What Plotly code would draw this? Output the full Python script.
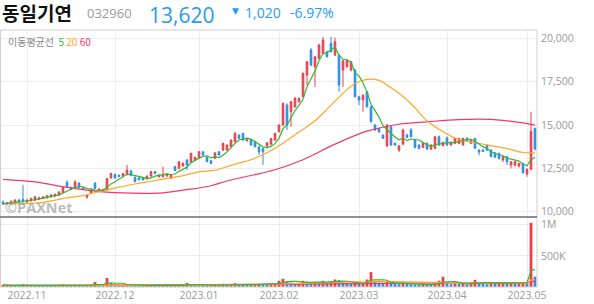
import plotly.graph_objects as go
import pandas as pd

# ---------------- data ----------------
open_ = [10550,10450,10480,10550,10680,10700,10560,10620,10660,10720,10760,10800,10860,10900,10960,
         11100,11700,11400,11350,11650,11350,10850,11100,11650,11250,11250,11250,11950,12150,12100,
         12050,12150,12350,11980,11950,11950,11900,12060,12310,12020,12020,12060,11930,12600,12500,
         12640,12980,12880,12980,13080,13460,13140,12940,13080,13460,13560,13560,13750,14040,14420,
         14520,14100,14140,14040,13750,13650,13790,13900,14140,14615,15000,16157,15770,16060,16350,
         16640,17890,19330,18370,18850,19140,19230,19715,19040,19040,18180,18370,18180,18180,16640,
         16445,16925,16060,15000,14810,14425,13790,14900,13950,13560,13900,14425,14715,14137,13850,
         13715,13950,13620,13660,14330,13810,14240,13850,13950,13950,13850,14240,13950,14235,13560,
         13560,13850,13560,13400,13370,12985,13175,12695,12695,12640,12790,12175,12450,14810]
high = [10650,10550,10650,10700,10720,11550,10750,10820,10900,10860,10900,10950,11020,11060,11200,
        11450,11820,11450,11820,11700,11400,11000,11300,11700,11350,11320,11950,12250,12200,12150,
        12250,12700,12400,12050,12000,12000,12100,12350,12350,12150,12600,12200,12130,12650,12900,
        12850,13050,13400,13180,13500,13500,13200,12980,13420,13500,13980,13880,14160,14600,14480,
        14560,14250,14180,14080,13800,13700,14000,14250,14550,15050,16300,16250,16400,16600,16600,
        18050,18700,19450,18950,19700,20100,19300,20100,20050,19100,18800,18800,18700,18250,16700,
        16780,16950,16100,15050,14850,14450,15050,14950,14000,13850,14800,14500,14830,14200,13900,
        14000,14000,13900,14350,14400,14050,14350,14050,14250,14250,14250,14300,14150,14250,13600,
        13600,13870,13600,13420,13400,13200,13200,12900,12900,12800,12800,12500,15770,14850]
low = [10400,10420,10450,10500,10520,10520,10520,10580,10620,10680,10720,10760,10820,10860,10920,
       11050,11400,11250,11300,11350,11250,10750,11050,11300,11200,11180,11200,11900,11900,12000,
       12000,12100,12050,11700,11800,11820,11870,12020,12180,11980,12000,12030,11900,12350,12450,
       12600,12400,12850,12950,13050,13250,12850,12750,13050,13250,13520,13520,13720,14000,14200,
       14100,14050,13820,13720,13270,12700,13750,13850,14100,14580,14950,14714,14900,16000,16300,
       16600,17311,18400,17200,18800,19100,18900,19200,19000,16925,17200,18300,18100,16600,16157,
       15770,16000,15150,14650,14550,14200,13750,13800,13800,13440,13850,14250,14300,13650,13600,
       13680,13560,13550,13620,13800,13780,13800,13820,13900,13900,13820,14050,13920,13650,13250,
       13450,13500,13150,13100,13000,12850,12700,12500,12600,12550,12200,12020,12400,13550]
close = [10450,10520,10600,10680,10560,10580,10660,10760,10860,10800,10860,10920,10960,10990,11120,
         11400,11450,11300,11720,11400,11280,10950,11250,11350,11300,11280,11900,12200,11950,12050,
         12200,12400,12100,11730,11850,11830,12050,12310,12220,12120,12100,12180,12120,12370,12880,
         12790,12700,13370,13140,13460,13270,12890,12790,13400,13270,13950,13850,14140,14520,14240,
         14140,14200,13850,13750,13460,13460,13980,14220,14520,15000,16250,15000,16350,16560,16540,
         17985,18655,18465,18945,19620,19910,18945,19230,19810,17310,18700,18750,18650,16640,16445,
         16730,16060,15190,14720,14620,14240,15000,13850,13850,13800,14715,14290,14330,13715,13660,
         13950,13620,13850,14330,13850,14000,13850,14000,14235,14235,14235,14100,14100,13660,13440,
         13480,13560,13175,13150,13080,13175,12885,12885,12885,12790,12250,12450,14640,13620]
volume = [35,20,25,22,18,45,20,25,22,30,28,
          25,30,22,28,40,35,25,38,30,20,35,30,
          80,30,25,145,60,40,25,30,45,35,
          30,25,20,22,30,25,20,28,22,20,30,35,25,
          65,40,30,35,30,25,22,35,30,50,
          35,45,60,40,45,30,35,40,50,45,
          40,50,55,100,130,90,70,55,60,100,
          85,70,80,75,100,70,90,120,110,80,
          60,55,70,55,60,120,240,90,70,60,
          80,70,50,45,70,50,45,40,35,40,
          38,35,60,100,165,60,45,55,50,60,
          40,55,115,70,50,45,75,50,60,75,
          55,70,50,65,80,75,1030,165]
volume = [v * 1000 for v in volume]

ma20_pos = [0,8,12,16,20,24,29,33,37,41,45,49,53,58,62,66,70,74,78,82,86,88,91,94,97,100,103,106,110,114,118,122,126,130,133]
ma20_val = [10450,10490,10620,10800,10930,11150,11420,11600,11760,11920,12080,12300,12400,12750,13000,13400,13950,14600,
            15250,16150,17050,17400,17640,17580,17150,16650,16000,15250,14620,14170,13980,13810,13640,13420,13400]
ma60_pos = [0,8,16,20,24,32,40,46,52,56,62,68,75,83,91,99,106,114,122,130,133]
ma60_val = [11870,11720,11400,11270,11160,11070,11090,11270,11500,11770,12090,12420,13000,13900,14650,15050,15190,15320,15330,15130,15000]

month_pos = [6, 28, 49, 69, 89, 111, 131]
month_labels = ['2022.11', '2022.12', '2023.01', '2023.02', '2023.03', '2023.04', '2023.05']
price_ticks = [10000, 12500, 15000, 17500, 20000]
vol_ticks = [500000, 1000000]
vol_tick_labels = ['500K', '1M']

# ---------------- derived ----------------
idx = list(range(len(close)))
s_close = pd.Series(close)
ma5 = s_close.rolling(5, min_periods=1).mean()
s_vol = pd.Series(volume)
vma5 = s_vol.rolling(5, min_periods=1).mean()
vma20 = s_vol.rolling(20, min_periods=1).mean()
vma60 = s_vol.rolling(60, min_periods=1).mean()

RED = '#f03d4c'
BLUE = '#2a8cf0'
GREEN = '#33b833'
ORANGE = '#ffa726'
PINK = '#f2386b'
vol_colors = [RED if (i == 0 or volume[i] >= volume[i - 1]) else BLUE for i in idx]

W, H = 594, 304
RIGHT = 537
P_TOP, P_BOT = 30, 217
V_BOT = 287


def fy(py):
    return 1 - py / H


def fx(px):
    return px / RIGHT


fig = go.Figure()
fig.add_trace(go.Candlestick(
    x=idx, open=open_, high=high, low=low, close=close,
    increasing=dict(line=dict(color=RED, width=1), fillcolor=RED),
    decreasing=dict(line=dict(color=BLUE, width=1), fillcolor=BLUE),
    whiskerwidth=0, xaxis='x', yaxis='y', showlegend=False, hoverinfo='skip'))
fig.add_trace(go.Scatter(x=ma60_pos, y=ma60_val, mode='lines', line=dict(color=PINK, width=1.2, shape='spline'),
                         xaxis='x', yaxis='y', showlegend=False, hoverinfo='skip'))
fig.add_trace(go.Scatter(x=ma20_pos, y=ma20_val, mode='lines', line=dict(color=ORANGE, width=1.2, shape='spline'),
                         xaxis='x', yaxis='y', showlegend=False, hoverinfo='skip'))
fig.add_trace(go.Scatter(x=idx, y=ma5, mode='lines', line=dict(color=GREEN, width=1.2),
                         xaxis='x', yaxis='y', showlegend=False, hoverinfo='skip'))

fig.add_trace(go.Bar(x=idx, y=volume, marker=dict(color=vol_colors, line=dict(width=0)), width=0.7,
                     xaxis='x2', yaxis='y2', showlegend=False, hoverinfo='skip'))
for ser, col in [(vma60, PINK), (vma20, ORANGE), (vma5, GREEN)]:
    fig.add_trace(go.Scatter(x=idx, y=ser, mode='lines', line=dict(color=col, width=1.2),
                             xaxis='x2', yaxis='y2', showlegend=False, hoverinfo='skip'))

xr = [-0.75, 133.5]
tickfont = dict(family='Open Sans, sans-serif', size=10.5, color='#999999')
fig.update_layout(
    width=W, height=H, margin=dict(l=0, r=W - RIGHT, t=0, b=0),
    paper_bgcolor='white', plot_bgcolor='white', boxgap=0.42, bargap=0.3,
    xaxis=dict(domain=[0, 1], anchor='y', range=xr, rangeslider=dict(visible=False),
               tickvals=month_pos, showticklabels=False, showgrid=True, gridcolor='#ededed', gridwidth=1,
               zeroline=False, showline=False, ticks=''),
    xaxis2=dict(domain=[0, 1], anchor='y2', range=xr, matches='x',
                tickvals=month_pos, ticktext=month_labels, showgrid=True, gridcolor='#ededed', gridwidth=1,
                zeroline=False, showline=False, ticks='', tickfont=tickfont),
    yaxis=dict(domain=[fy(P_BOT), fy(P_TOP)], anchor='x', side='right', range=[9694, 20491],
               tickvals=price_ticks, tickformat=',', showgrid=True, gridcolor='#ededed',
               zeroline=False, showline=False, ticks='', tickfont=tickfont, ticklabelstandoff=3),
    yaxis2=dict(domain=[fy(V_BOT), fy(P_BOT)], anchor='x2', side='right', range=[0, 1123600],
                tickvals=vol_ticks, ticktext=vol_tick_labels, showgrid=True, gridcolor='#ededed',
                zeroline=False, showline=False, ticks='', tickfont=tickfont, ticklabelstandoff=3),
    shapes=[
        dict(type='rect', xref='paper', yref='paper', x0=0.001, x1=1, y0=fy(P_BOT), y1=fy(P_TOP),
             line=dict(color='#cfcfcf', width=1)),
        dict(type='rect', xref='paper', yref='paper', x0=0.001, x1=1, y0=fy(V_BOT), y1=fy(P_BOT),
             line=dict(color='#cfcfcf', width=1)),
        dict(type='line', xref='paper', yref='paper', x0=0, x1=1, y0=fy(P_BOT), y1=fy(P_BOT),
             line=dict(color='#444444', width=1.2)),
    ],
)

ann = [
    dict(text='<b>동일기연</b>', x=fx(0), y=fy(12), font=dict(family='Noto Sans CJK KR', size=19, color='#111111')),
    dict(text='032960', x=fx(85), y=fy(13), font=dict(family='Open Sans', size=13, color='#999999')),
    dict(text='▼', x=fx(230), y=fy(11), font=dict(family='DejaVu Sans', size=9, color='#2a9af2')),
    dict(text='1,020', x=fx(243), y=fy(12), font=dict(family='Open Sans', size=14, color='#2a9af2')),
    dict(text='-6.97%', x=fx(288), y=fy(12), font=dict(family='Open Sans', size=14, color='#2a9af2')),
    dict(text="이동평균선  <span style='color:%s'>5</span> <span style='color:%s'>20</span> "
              "<span style='color:%s'>60</span>" % (GREEN, ORANGE, PINK),
         x=fx(6), y=fy(41), font=dict(family='Noto Sans CJK KR', size=10, color='#888888')),
    dict(text='<b>©PAXNet</b>', x=fx(3), y=fy(207), font=dict(family='Open Sans', size=14.5, color='rgba(150,150,150,0.65)')),
]
for a in ann:
    a.update(xanchor='left', yanchor='middle')
# big last price: anchored at the top edge so that its box stays inside the page
ann.append(dict(text='13,620', x=fx(148), y=1, xanchor='left', yanchor='top', borderpad=0,
                font=dict(family='Open Sans', size=21, color='#2a9af2')))
for a in ann:
    a.update(xref='paper', yref='paper', showarrow=False)
fig.update_layout(annotations=ann)

fig.write_html('out.html')
